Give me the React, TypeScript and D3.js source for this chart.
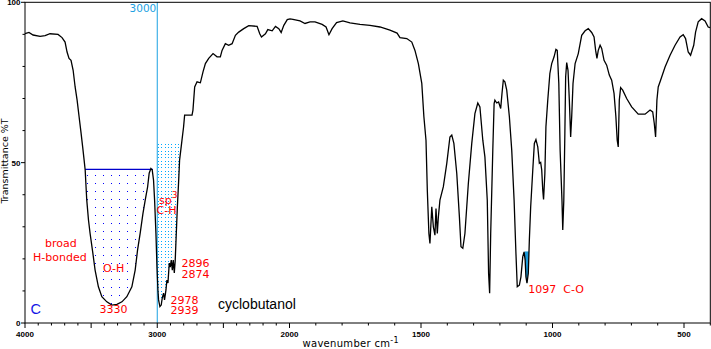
import React from 'react';
import * as d3 from 'd3';

// Spectrum of cyclobutanol (wavenumber cm-1, %T)
const wavenumbers = [
  4000, 3970, 3939, 3886, 3848, 3811, 3750, 3720, 3697, 3682, 3667, 3652, 3636, 3621, 3606, 3591, 3576, 3564, 3553, 3545,
  3533, 3520, 3508, 3487, 3470, 3445, 3419, 3381, 3343, 3305, 3267, 3230, 3192, 3167, 3149, 3129, 3108, 3091, 3073, 3061,
  3048, 3038, 3028, 3020, 3010, 3002, 2995, 2990, 2980, 2970, 2962, 2952, 2945, 2934, 2927, 2919, 2909, 2902, 2894, 2886,
  2879, 2871, 2864, 2856, 2848, 2839, 2831, 2813, 2801, 2793, 2775, 2737, 2730, 2717, 2699, 2674, 2654, 2636, 2611, 2578,
  2548, 2523, 2510, 2485, 2460, 2434, 2409, 2384, 2346, 2308, 2245, 2225, 2212, 2182, 2164, 2131, 2106, 2081, 2063, 2043,
  2017, 1998, 1987, 1960, 1941, 1922, 1903, 1876, 1861, 1850, 1838, 1821, 1797, 1770, 1732, 1694, 1656, 1618, 1591, 1580,
  1554, 1535, 1523, 1510, 1497, 1489, 1481, 1476, 1470, 1466, 1459, 1453, 1447, 1443, 1438, 1434, 1428, 1415, 1402, 1390,
  1383, 1375, 1364, 1354, 1348, 1341, 1333, 1320, 1307, 1295, 1284, 1276, 1265, 1257, 1248, 1243, 1239, 1235, 1227, 1222,
  1219, 1212, 1205, 1197, 1192, 1187, 1181, 1174, 1164, 1155, 1146, 1139, 1134, 1126, 1120, 1113, 1108, 1104, 1101, 1097,
  1092, 1088, 1083, 1075, 1069, 1063, 1056, 1050, 1045, 1041, 1037, 1034, 1029, 1025, 1018, 1010, 1003, 994, 987, 982,
  976, 971, 964, 961, 957, 953, 950, 946, 941, 936, 931, 927, 922, 914, 902, 889, 876, 864, 851, 842,
  836, 831, 826, 819, 813, 804, 794, 784, 775, 766, 759, 754, 750, 746, 741, 733, 718, 699, 674, 648,
  629, 619, 613, 608, 603, 598, 589, 572, 553, 534, 515, 503, 494, 484, 475, 463, 456, 446, 433, 420,
  408, 401,
];
const transmittance = [
  90.2, 90.6, 89.8, 89.4, 89.6, 90.2, 90.0, 89.0, 87.6, 84.5, 82.5, 81.9, 78.8, 73.6, 69.5, 64.3, 59.2, 54.9, 50.8, 47.7,
  38.3, 32.1, 28.0, 21.8, 16.5, 11.3, 8.2, 6.6, 5.6, 5.8, 6.6, 8.2, 11.3, 16.5, 22.7, 28.0, 34.2, 38.3, 42.4, 46.7,
  48.2, 47.7, 44.5, 38.3, 28.0, 17.4, 10.3, 7.2, 5.1, 5.6, 7.8, 9.3, 7.2, 10.3, 13.4, 12.5, 18.7, 17.4, 19.6, 16.5,
  19.6, 15.6, 19.6, 28.0, 36.1, 43.6, 50.8, 57.0, 61.1, 64.8, 64.8, 64.8, 66.4, 73.6, 75.2, 74.9, 78.3, 80.9, 82.5, 84.0,
  83.0, 83.0, 85.0, 87.1, 86.6, 87.1, 89.7, 90.7, 91.8, 92.7, 92.5, 90.2, 89.2, 90.2, 91.5, 91.1, 92.5, 91.8, 90.6, 92.8,
  94.6, 94.8, 94.7, 94.2, 93.4, 93.9, 93.9, 93.1, 92.3, 89.9, 91.8, 93.7, 94.2, 93.6, 93.1, 92.8, 92.3, 91.3, 90.4, 89.0,
  88.7, 87.6, 85.0, 80.9, 74.7, 64.3, 57.0, 41.4, 27.9, 24.8, 36.2, 30.0, 27.4, 35.7, 27.9, 33.1, 38.3, 42.5, 49.8, 58.0,
  58.6, 56.0, 46.6, 33.1, 23.8, 23.3, 27.9, 43.5, 56.0, 65.3, 68.6, 67.4, 57.0, 51.8, 38.3, 15.5, 9.3, 27.9, 53.9, 68.4,
  69.5, 68.6, 68.9, 66.9, 71.6, 75.7, 75.2, 72.6, 64.3, 53.9, 38.3, 21.7, 11.3, 11.8, 14.4, 20.7, 22.2, 19.6, 14.4, 12.4,
  15.5, 25.9, 36.2, 47.7, 56.0, 57.2, 54.9, 49.8, 50.1, 47.7, 41.4, 38.5, 46.6, 61.2, 69.5, 77.8, 80.9, 83.0, 85.3, 85.0,
  74.7, 53.9, 38.3, 29.0, 38.3, 59.1, 76.7, 81.2, 78.8, 69.5, 58.0, 64.3, 74.7, 80.9, 84.0, 89.7, 91.1, 91.8, 90.6, 89.2,
  85.0, 82.5, 85.0, 86.6, 85.6, 81.9, 80.4, 77.3, 75.7, 71.6, 64.3, 57.0, 54.9, 69.5, 73.4, 72.6, 70.0, 67.4, 65.1, 65.1,
  66.4, 65.8, 62.2, 58.0, 69.5, 73.6, 75.7, 79.8, 83.5, 86.6, 89.2, 89.9, 88.7, 84.5, 83.5, 86.6, 90.7, 93.9, 94.9, 94.2,
  92.3, 92.1,
];

const xLabelTicks = [4000, 3000, 2000, 1500, 1000, 500];
const yLabelTicks = [0, 50, 100];

// highlighted bands: [high wavenumber, low wavenumber, upper %T]
const ohBand = [3545, 3040, 47.9];
const chBand = [3000, 2816, 55.8];
const coBand = [1106, 1088, 22.4];

const W = 711;
const H = 349;

export default function App() {
  const x = d3.scaleLinear().domain([4000, 2000, 400]).range([25, 289.5, 710.3]);
  const y = d3.scaleLinear().domain([0, 100]).range([323, 2.3]);
  const pts = wavenumbers.map((w, i) => [w, transmittance[i]] as [number, number]);

  const line = d3.line<[number, number]>().x(d => x(d[0])).y(d => y(d[1]));

  const bandArea = (top: number) =>
    d3.area<[number, number]>().x(d => x(d[0])).y0(y(top)).y1(d => y(d[1]));

  const bands = [
    { id: 'oh', b: ohBand, fill: 'url(#dotsBlue)' },
    { id: 'ch', b: chBand, fill: 'url(#dotsCyan)' },
    { id: 'co', b: coBand, fill: '#1b9ad8' },
  ];

  const minorX = d3.range(400, 4001, 100);
  const minorY = d3.range(0, 101, 10);

  const redFont = { fontFamily: 'DejaVu Sans, sans-serif', fontSize: 11, fill: '#ff0000' } as const;
  const tickFont = { fontFamily: 'Liberation Sans, Arial, sans-serif', fontSize: 8, fontWeight: 700, fill: '#000' } as const;

  const cyanDots: [number, number][] = [];
  [0, 3, 7].forEach(a => [0, 3, 7].forEach(b => cyanDots.push([a, b])));

  return (
    <svg width={W} height={H} style={{ position: 'absolute', left: 0, top: 0, display: 'block', background: '#fff' }}>
      <defs>
        <pattern id="dotsBlue" patternUnits="userSpaceOnUse" x={87} y={175} width={8} height={8}>
          <rect x={0} y={0} width={1} height={1} fill="#0000ff" shapeRendering="crispEdges" />
        </pattern>
        <pattern id="dotsCyan" patternUnits="userSpaceOnUse" x={158} y={144} width={10} height={10}>
          {cyanDots.map(([a, b], i) => (
            <rect key={i} x={a} y={b} width={1} height={1} fill="#00aaff" shapeRendering="crispEdges" />
          ))}
        </pattern>
        {bands.map(({ id, b }) => (
          <clipPath id={'clip-' + id} key={id}>
            <rect x={x(b[0])} y={y(b[2])} width={x(b[1]) - x(b[0])} height={y(0) - y(b[2])} />
          </clipPath>
        ))}
      </defs>

      {/* band fills */}
      {bands.map(({ id, b, fill }) => (
        <path key={id} d={bandArea(b[2])(pts) || ''} fill={fill} clipPath={`url(#clip-${id})`} />
      ))}
      <line x1={x(ohBand[0])} x2={x(ohBand[1]) + 1} y1={y(ohBand[2])} y2={y(ohBand[2])} stroke="#0000cc" strokeWidth={1.2} />

      {/* 3000 marker */}
      <line x1={x(3000)} x2={x(3000)} y1={2} y2={323} stroke="#1ba1e2" strokeWidth={1} />
      <text x={x(3000) - 1} y={11.5} textAnchor="end" style={{ fontFamily: 'DejaVu Sans, sans-serif', fontSize: 10.5, fill: '#1ba1e2' }}>3000</text>

      {/* frame */}
      <rect x={25} y={2.3} width={685.3} height={320.7} fill="none" stroke="#000" strokeWidth={1} />

      {/* x ticks */}
      {minorX.map(v => (
        <line key={v} x1={x(v)} x2={x(v)} y1={323} y2={v % 500 === 0 ? 328 : 325.5} stroke="#000" />
      ))}
      {xLabelTicks.map(v => (
        <text key={v} x={x(v)} y={336.5} textAnchor="middle" style={tickFont}>{v}</text>
      ))}
      {/* y ticks */}
      {minorY.map(v => (
        <line key={v} x1={v % 50 === 0 ? 21 : 22.5} x2={25} y1={y(v)} y2={y(v)} stroke="#000" />
      ))}
      {yLabelTicks.map(v => (
        <text key={v} x={20.5} y={y(v) + 3} textAnchor="end" style={tickFont}>{v}</text>
      ))}

      {/* axis titles */}
      <text transform="translate(7.5,161) rotate(-90)" textAnchor="middle" style={{ fontFamily: 'DejaVu Sans, sans-serif', fontSize: 9.5, fill: '#000' }}>Transmittance %T</text>
      <text x={302.5} y={346.5} style={{ fontFamily: 'DejaVu Sans, sans-serif', fontSize: 10, fill: '#000', letterSpacing: 0.3 }}>
        wavenumber cm<tspan dy={-4} fontSize={8}>-1</tspan>
      </text>

      {/* spectrum */}
      <path d={line(pts) || ''} fill="none" stroke="#000" strokeWidth={1.3} strokeLinejoin="miter" />

      {/* annotations */}
      <text x={45} y={246.5} style={redFont}>broad</text>
      <text x={33} y={260.5} style={redFont}>H-bonded</text>
      <text x={103} y={271.5} style={redFont}>O-H</text>
      <text x={99.5} y={313} style={redFont}>3330</text>
      <text x={159} y={204} style={redFont}>sp<tspan dy={-6} fontSize={9}>3</tspan></text>
      <text x={156.5} y={214} style={redFont}>C-H</text>
      <text x={181.5} y={266.5} style={redFont}>2896</text>
      <text x={181.5} y={278} style={redFont}>2874</text>
      <text x={170.5} y={303.5} style={redFont}>2978</text>
      <text x={170.5} y={314} style={redFont}>2939</text>
      <text x={528.3} y={293} style={{ ...redFont, whiteSpace: 'pre' }} xmlSpace="preserve">1097  C-O</text>
      <text x={218} y={309} style={{ fontFamily: 'Liberation Sans, Arial, sans-serif', fontSize: 14, fill: '#000' }}>cyclobutanol</text>
      <text x={30.5} y={313.5} style={{ fontFamily: 'Liberation Sans, Arial, sans-serif', fontSize: 14.5, fill: '#1515e6' }}>C</text>
    </svg>
  );
}
